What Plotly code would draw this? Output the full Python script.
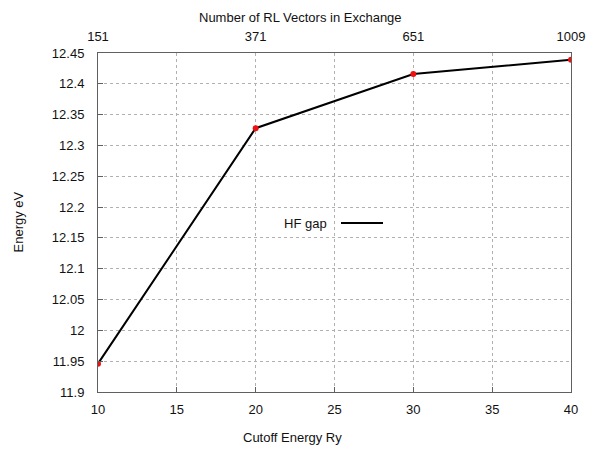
import plotly.graph_objects as go

cutoff = [10, 20, 30, 40]
energy = [11.946, 12.328, 12.416, 12.439]
rl_vectors = ["151", "371", "651", "1009"]
y_ticks = [11.9, 11.95, 12.0, 12.05, 12.1, 12.15, 12.2, 12.25, 12.3, 12.35, 12.4, 12.45]
y_labels = ["11.9", "11.95", "12", "12.05", "12.1", "12.15", "12.2", "12.25", "12.3", "12.35", "12.4", "12.45"]

FONT = dict(family="Liberation Sans, Arial, sans-serif", size=13, color="#111111")
AX = dict(showline=True, linecolor="#606060", linewidth=1, mirror=True,
          ticks="inside", ticklen=5, tickcolor="#606060",
          showgrid=True, gridcolor="#b0b0b0", griddash="dot", gridwidth=1,
          zeroline=False, tickfont=FONT, automargin=False)

OFF = 8  # page body margin
W, H = 600 - OFF, 450 - OFF
# target plot box in window pixels
PL, PR, PT, PB = 98, 571, 53, 392
L, T = PL - OFF, PT - OFF
R, B = W - (PR - OFF), H - (PB - OFF)
PW, PH = PR - PL, PB - PT

fig = go.Figure()
fig.add_trace(go.Scatter(x=cutoff, y=energy, mode="lines+markers",
                         line=dict(color="black", width=2),
                         marker=dict(color="#ee1111", size=6),
                         name="HF gap", showlegend=False))
fig.add_trace(go.Scatter(x=cutoff, y=energy, xaxis="x2", mode="markers",
                         marker=dict(opacity=0), showlegend=False, hoverinfo="skip"))

fig.update_layout(
    width=W, height=H,
    margin=dict(l=L, r=R, t=T, b=B),
    paper_bgcolor="white", plot_bgcolor="white",
    font=FONT,
    xaxis=dict(range=[10, 40], tickvals=[10, 15, 20, 25, 30, 35, 40], ticklabelstandoff=5, **AX),
    xaxis2=dict(range=[10, 40], overlaying="x", side="top",
                tickvals=cutoff, ticktext=rl_vectors,
                showline=False, showgrid=False, ticks="", zeroline=False,
                tickfont=FONT, automargin=False, ticklabelstandoff=8),
    yaxis=dict(range=[11.9, 12.45], tickvals=y_ticks, ticktext=y_labels, ticklabelstandoff=10, **AX),
)

def px(x, y):
    return (x - PL) / PW, (PB - y) / PH

ax_, ay_ = px(292, 437)
fig.add_annotation(x=ax_, y=ay_, xref="paper", yref="paper", text="Cutoff Energy Ry",
                   showarrow=False, font=FONT, xanchor="center", yanchor="middle")
ax_, ay_ = px(300, OFF)
fig.add_annotation(x=ax_, y=ay_, xref="paper", yref="paper", text="Number of RL Vectors in Exchange",
                   showarrow=False, font=FONT, xanchor="center", yanchor="top")
ax_, ay_ = px(OFF, 222)
fig.add_annotation(x=ax_, y=ay_, xref="paper", yref="paper", text="Energy eV", textangle=-90,
                   showarrow=False, font=FONT, xanchor="left", yanchor="middle")

lx, ly = px(329, 223)
fig.add_annotation(x=lx, y=ly, xref="paper", yref="paper",
                   text="HF gap", showarrow=False, font=FONT, xanchor="right", yanchor="middle")
x0, _ = px(341, 223)
x1, _ = px(383, 223)
fig.add_shape(type="line", xref="paper", yref="paper",
              x0=x0, x1=x1, y0=ly, y1=ly,
              line=dict(color="black", width=2))

fig.write_html("out.html")
